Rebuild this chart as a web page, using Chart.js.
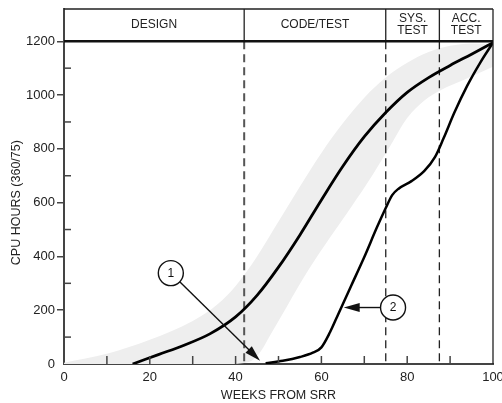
<!DOCTYPE html>
<html>
<head>
<meta charset="utf-8">
<script src="https://cdn.jsdelivr.net/npm/chart.js@4.4.1/dist/chart.umd.min.js"></script>
<style>
  html, body { margin: 0; padding: 0; background: #fff; }
  #wrap { width: 502px; height: 403px; }
</style>
</head>
<body>
<div id="wrap"><canvas id="cpuChart"></canvas></div>
<script>
// curve 1
const curve1Weeks = [16, 22, 28, 34, 40, 45, 50, 55, 60, 65, 70, 75, 80, 85, 90, 95, 100];
const curve1Hours = [0, 35, 70, 112, 175, 255, 360, 480, 610, 735, 845, 935, 1010, 1065, 1110, 1152, 1195];

// curve 2
const curve2Weeks = [47, 51, 55, 58, 60, 62, 64, 67, 70, 73, 75, 76.5, 78, 81, 84, 86.5, 88.5, 91, 94, 97, 100];
const curve2Hours = [3, 12, 26, 42, 62, 118, 188, 293, 398, 510, 580, 628, 652, 680, 718, 770, 840, 935, 1035, 1120, 1195];

// grey envelope
const bandTopWeeks = [0, 10, 20, 30, 36, 40, 45, 50, 55, 60, 65, 70, 75, 80, 85, 90, 95, 100];
const bandTopHours = [5, 38, 90, 160, 225, 290, 400, 530, 660, 785, 895, 990, 1065, 1120, 1160, 1183, 1192, 1190];
const bandLowWeeks = [0, 38, 42, 44, 46, 48, 52, 57, 62, 67, 72, 76, 80, 84, 88, 93, 100];
const bandLowHours = [0, 0, 4, 15, 50, 105, 215, 350, 470, 585, 705, 810, 915, 980, 1020, 1055, 1105];

const phaseEdges = [42, 75, 87.5];
const phaseNames = [["DESIGN"], ["CODE/TEST"], ["SYS.", "TEST"], ["ACC.", "TEST"]];
const xTickLabels = [0, 20, 40, 60, 80, 100];
const yTickLabels = [0, 200, 400, 600, 800, 1000, 1200];
const yTop = 1200;
const yHeaderTop = 1320;

const toPoints = (xs, ys) => xs.map((x, i) => ({ x: x, y: ys[i] }));

// numbered callouts: circle centre and arrow tip in data units
const callouts = [
  { label: "1", at: [24.9, 338], tip: [45.7, 12] },
  { label: "2", at: [76.7, 210], tip: [65.2, 210] },
];

const FONT = "'Liberation Sans', Arial, sans-serif";

function arrow(ctx, x1, y1, x2, y2) {
  let ang = Math.atan2(y2 - y1, x2 - x1);
  let len = 16, hw = 4.5;
  ctx.beginPath();
  ctx.moveTo(x1, y1);
  ctx.lineTo(x2 - Math.cos(ang) * len * 0.8, y2 - Math.sin(ang) * len * 0.8);
  ctx.stroke();
  ctx.beginPath();
  ctx.moveTo(x2, y2);
  ctx.lineTo(x2 - Math.cos(ang) * len - Math.sin(ang) * hw, y2 - Math.sin(ang) * len + Math.cos(ang) * hw);
  ctx.lineTo(x2 - Math.cos(ang) * len + Math.sin(ang) * hw, y2 - Math.sin(ang) * len - Math.cos(ang) * hw);
  ctx.closePath();
  ctx.fill();
}

const extras = {
  id: "extras",
  afterDraw(chart) {
    const ctx = chart.ctx;
    const xs = chart.scales.x, ys = chart.scales.y;
    const area = chart.chartArea;
    ctx.save();

    // inner minor ticks
    ctx.strokeStyle = "#444";
    ctx.lineWidth = 1.5;
    ys.ticks.forEach(t => {
      if (t.value % 200 !== 0 && t.value < yTop) {
        let py = ys.getPixelForValue(t.value);
        ctx.beginPath(); ctx.moveTo(area.left, py); ctx.lineTo(area.left + 7, py); ctx.stroke();
      }
    });
    xs.ticks.forEach(t => {
      if (t.value > 0 && t.value < 100) {
        let px = xs.getPixelForValue(t.value);
        ctx.beginPath(); ctx.moveTo(px, area.bottom); ctx.lineTo(px, area.bottom - 8); ctx.stroke();
      }
    });

    // frame and header
    let p1200 = ys.getPixelForValue(yTop);
    let pTop = ys.getPixelForValue(yHeaderTop);
    ctx.strokeStyle = "#222";
    ctx.lineWidth = 1.3;
    ctx.beginPath();
    ctx.moveTo(area.left, pTop); ctx.lineTo(area.right, pTop);
    ctx.moveTo(area.right, pTop); ctx.lineTo(area.right, area.bottom);
    phaseEdges.forEach(w => {
      let px = xs.getPixelForValue(w);
      ctx.moveTo(px, pTop); ctx.lineTo(px, p1200);
    });
    ctx.stroke();
    ctx.strokeStyle = "#111";
    ctx.lineWidth = 2.5;
    ctx.beginPath(); ctx.moveTo(area.left, p1200); ctx.lineTo(area.right, p1200); ctx.stroke();

    ctx.fillStyle = "#222";
    ctx.font = "12px " + FONT;
    ctx.textAlign = "center";
    ctx.textBaseline = "middle";
    let edges = [0].concat(phaseEdges, [100]);
    let cy = (p1200 + pTop) / 2;
    phaseNames.forEach((lines, i) => {
      let cx = xs.getPixelForValue((edges[i] + edges[i + 1]) / 2);
      lines.forEach((s, j) => {
        ctx.fillText(s, cx, cy + (j - (lines.length - 1) / 2) * 12);
      });
    });

    // callouts
    ctx.lineWidth = 1.4;
    callouts.forEach(c => {
      let cx = xs.getPixelForValue(c.at[0]), cyy = ys.getPixelForValue(c.at[1]);
      let tx = xs.getPixelForValue(c.tip[0]), ty = ys.getPixelForValue(c.tip[1]);
      let r = 12.5;
      ctx.strokeStyle = "#111";
      ctx.fillStyle = "#fff";
      ctx.beginPath(); ctx.arc(cx, cyy, r, 0, Math.PI * 2); ctx.fill(); ctx.stroke();
      ctx.fillStyle = "#111";
      let ang = Math.atan2(ty - cyy, tx - cx);
      arrow(ctx, cx + Math.cos(ang) * r, cyy + Math.sin(ang) * r, tx, ty);
      ctx.font = "12px " + FONT;
      ctx.fillText(c.label, cx, cyy + 0.5);
    });

    // y axis title, centred on the 0..1200 span
    ctx.save();
    ctx.translate(16.5, (ys.getPixelForValue(0) + p1200) / 2);
    ctx.rotate(-Math.PI / 2);
    ctx.font = "12.5px " + FONT;
    ctx.fillStyle = "#222";
    ctx.fillText("CPU HOURS (360/75)", 0, 0);
    ctx.restore();

    ctx.restore();
  }
};

const dashSets = phaseEdges.map((w, i) => ({
  data: [{ x: w, y: yTop }, { x: w, y: 0 }],
  borderColor: i === 0 ? "#555" : "#222",
  borderWidth: i === 0 ? 2 : 1.3,
  borderDash: [8, 5],
  pointRadius: 0,
  tension: 0,
  order: 1,
}));

new Chart(document.getElementById("cpuChart"), {
  type: "line",
  data: {
    datasets: [
      {
        data: toPoints(curve1Weeks, curve1Hours),
        borderColor: "#000",
        borderWidth: 2.8,
        pointRadius: 0,
        cubicInterpolationMode: "monotone",
        order: 0,
      },
      {
        data: toPoints(curve2Weeks, curve2Hours),
        borderColor: "#000",
        borderWidth: 2.5,
        pointRadius: 0,
        cubicInterpolationMode: "monotone",
        order: 0,
      },
      ...dashSets,
      {
        data: toPoints(bandTopWeeks, bandTopHours),
        borderWidth: 0,
        borderColor: "rgba(0,0,0,0)",
        backgroundColor: "#eeeeee",
        pointRadius: 0,
        cubicInterpolationMode: "monotone",
        fill: "+1",
        order: 2,
      },
      {
        data: toPoints(bandLowWeeks, bandLowHours),
        borderWidth: 0,
        borderColor: "rgba(0,0,0,0)",
        pointRadius: 0,
        cubicInterpolationMode: "monotone",
        fill: false,
        order: 2,
      },
    ],
  },
  options: {
    responsive: true,
    maintainAspectRatio: false,
    animation: false,
    layout: { padding: { top: 9, right: 9, left: 0, bottom: 0 } },
    plugins: {
      legend: { display: false },
      tooltip: { enabled: false },
    },
    scales: {
      x: {
        type: "linear",
        min: 0,
        max: 100,
        afterFit: s => { s.height = 39; s.paddingLeft = 0; s.paddingRight = 0; },
        ticks: {
          stepSize: 10,
          autoSkip: false,
          maxRotation: 0,
          padding: 6,
          color: "#222",
          font: { family: FONT, size: 13 },
          callback: v => (xTickLabels.includes(v) ? v : ""),
        },
        grid: { drawOnChartArea: false, drawTicks: false },
        border: { display: true, color: "#444", width: 2 },
        title: {
          display: true,
          text: "WEEKS FROM SRR",
          color: "#222",
          font: { family: FONT, size: 12.5 },
          padding: { top: 0, bottom: 0 },
        },
      },
      y: {
        min: 0,
        max: yHeaderTop,
        afterFit: s => { s.width = 64; s.paddingTop = 0; s.paddingBottom = 0; },
        ticks: {
          stepSize: 100,
          autoSkip: false,
          padding: 2,
          color: "#222",
          font: { family: FONT, size: 13 },
          callback: v => (yTickLabels.includes(v) ? v : ""),
        },
        grid: {
          drawOnChartArea: false,
          drawTicks: true,
          tickLength: 7,
          lineWidth: 1.5,
          color: c => (c.tick && c.tick.value > 0 && yTickLabels.includes(c.tick.value) ? "#444" : "rgba(0,0,0,0)"),
        },
        border: { display: true, color: "#444", width: 2 },
        title: { display: false },
      },
    },
  },
  plugins: [extras],
});
</script>
</body>
</html>
